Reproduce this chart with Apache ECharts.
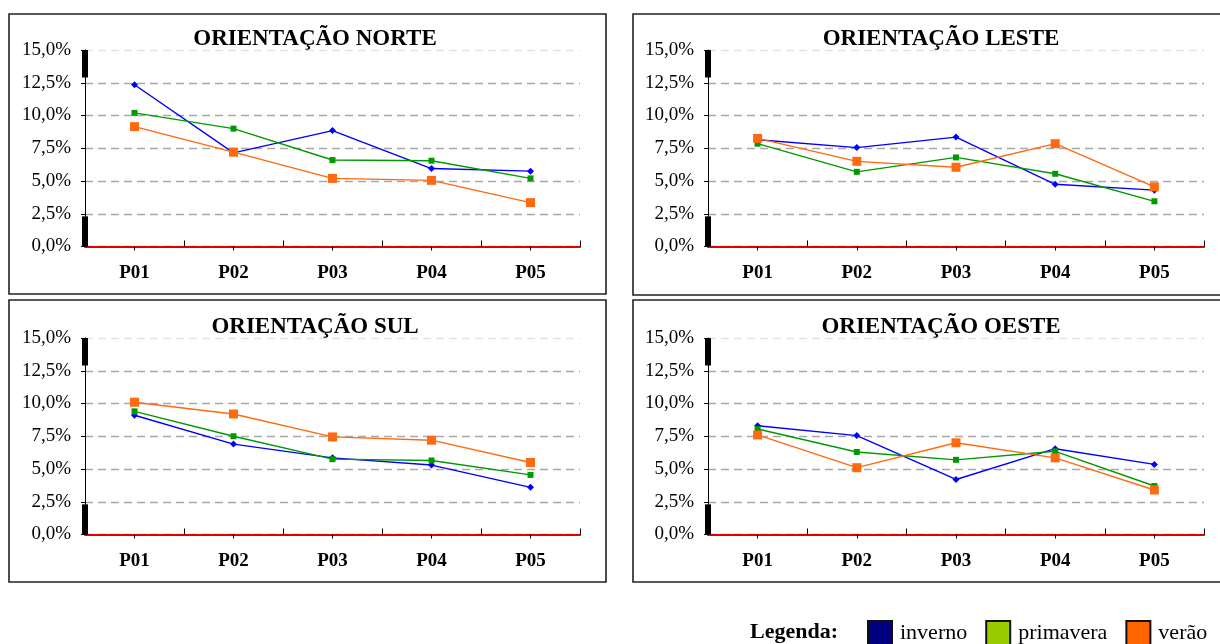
<!DOCTYPE html>
<html>
<head>
<meta charset="utf-8">
<script src="https://cdn.jsdelivr.net/npm/echarts@6/dist/echarts.min.js"></script>
<style>
html,body{margin:0;padding:0;background:#fff;}
#chart{width:1220px;height:644px;}
</style>
</head>
<body>
<div id="chart"></div>
<script>
const categories = ['P01', 'P02', 'P03', 'P04', 'P05'];
const seriesNames = ['inverno', 'primavera', 'verão'];
const titles = ['ORIENTAÇÃO NORTE', 'ORIENTAÇÃO LESTE', 'ORIENTAÇÃO SUL', 'ORIENTAÇÃO OESTE'];

const norteInverno   = [12.35, 7.15, 8.85, 5.95, 5.75];
const nortePrimavera = [10.2, 9.0, 6.6, 6.55, 5.2];
const norteVerao     = [9.15, 7.2, 5.2, 5.05, 3.35];

const lesteInverno   = [8.15, 7.55, 8.35, 4.75, 4.3];
const lestePrimavera = [7.85, 5.7, 6.8, 5.55, 3.45];
const lesteVerao     = [8.25, 6.5, 6.05, 7.85, 4.55];

const sulInverno     = [9.1, 6.9, 5.85, 5.3, 3.6];
const sulPrimavera   = [9.4, 7.5, 5.75, 5.65, 4.55];
const sulVerao       = [10.1, 9.2, 7.45, 7.2, 5.5];

const oesteInverno   = [8.3, 7.55, 4.2, 6.55, 5.35];
const oestePrimavera = [8.05, 6.3, 5.7, 6.35, 3.7];
const oesteVerao     = [7.6, 5.1, 7.0, 5.85, 3.4];

const yMin = 0, yMax = 15, yStep = 2.5;
// thick black marks drawn on the value axis (value ranges)
const axisMarks = [[0, 2.3], [12.9, 15]];

const panels = [
  [norteInverno, nortePrimavera, norteVerao],
  [lesteInverno, lestePrimavera, lesteVerao],
  [sulInverno, sulPrimavera, sulVerao],
  [oesteInverno, oestePrimavera, oesteVerao]
];

const FONT = "'Liberation Serif','Times New Roman',serif";
const lineColors = ['#0000FF', '#009900', '#FF6A10'];
const symbols = ['diamond', 'rect', 'rect'];
const symbolSizes = [7, 6, 9];
const legendColors = ['#000080', '#99CC00', '#FF6600'];

const grids = [
  {left: 85, top: 50, width: 495, height: 196.5},
  {left: 708, top: 50, width: 496, height: 196.5},
  {left: 85, top: 338, width: 495, height: 196.5},
  {left: 708, top: 338, width: 496, height: 196.5}
];
const frames = [
  {x: 9, y: 14, w: 597, h: 280},
  {x: 633, y: 14, w: 620, h: 281},
  {x: 9, y: 300, w: 597, h: 282},
  {x: 633, y: 300, w: 620, h: 282}
];
const titleCenters = [[315, 39], [941, 39], [315, 327], [941, 327]];

const xAxes = [], yAxes = [], series = [], graphics = [];
grids.forEach((g, i) => {
  xAxes.push({
    type: 'category', gridIndex: i, data: categories, position: 'bottom',
    boundaryGap: true,
    axisLine: {show: true, lineStyle: {color: '#E00000', width: 2}},
    axisTick: {show: true, inside: true, length: 6, alignWithLabel: false, lineStyle: {color: '#000', width: 1}},
    axisLabel: {show: true, margin: 17, color: '#000', fontFamily: FONT, fontWeight: 'bold', fontSize: 19},
    splitLine: {show: false}
  });
  xAxes.push({
    type: 'category', gridIndex: i, data: categories, position: 'bottom',
    boundaryGap: true,
    axisLine: {show: false},
    axisTick: {show: true, inside: false, length: 4, alignWithLabel: true, lineStyle: {color: '#000', width: 1}},
    axisLabel: {show: false},
    splitLine: {show: false}
  });
  yAxes.push({
    type: 'value', gridIndex: i, min: yMin, max: yMax, interval: yStep,
    axisLine: {show: true, lineStyle: {color: '#000', width: 1}},
    axisTick: {show: true, length: 4, lineStyle: {color: '#000'}},
    axisLabel: {
      color: '#000', fontFamily: FONT, fontSize: 19, margin: 14,
      formatter: v => v.toFixed(1).replace('.', ',') + '%'
    },
    splitLine: {
      show: true,
      lineStyle: {
        type: [8, 5], width: 1.3,
        color: ['#A8A8A8', '#A8A8A8', '#A8A8A8', '#A8A8A8', '#A8A8A8', '#A8A8A8', '#E2E2E2']
      }
    }
  });
  panels[i].forEach((data, k) => {
    series.push({
      name: seriesNames[k], type: 'line', xAxisIndex: i * 2, yAxisIndex: i,
      data: data, symbol: symbols[k], symbolSize: symbolSizes[k],
      showAllSymbol: true, animation: false,
      lineStyle: {color: lineColors[k], width: 1.4},
      itemStyle: {color: lineColors[k], borderWidth: 0}
    });
  });
  series.push({
    type: 'custom', xAxisIndex: i * 2, yAxisIndex: i, silent: true, animation: false,
    data: axisMarks.map(m => [0, m[0], m[1]]),
    renderItem: (params, api) => {
      const p0 = api.coord([api.value(0), api.value(1)]);
      const p1 = api.coord([api.value(0), api.value(2)]);
      const half = api.size([1, 0])[0] / 2;
      const x = p0[0] - half;
      return {type: 'rect', shape: {x: x - 3, y: p1[1], width: 6, height: p0[1] - p1[1]}, style: {fill: '#000'}};
    }
  });
  const f = frames[i];
  graphics.push({type: 'rect', silent: true, z: -1, shape: {x: f.x, y: f.y, width: f.w, height: f.h},
    style: {fill: 'none', stroke: '#222', lineWidth: 1.6}});
  graphics.push({type: 'text', silent: true, x: titleCenters[i][0], y: titleCenters[i][1],
    style: {text: titles[i], align: 'center', verticalAlign: 'middle', font: 'bold 23px ' + FONT, fill: '#000'}});
});
graphics.push({type: 'text', silent: true, x: 750, y: 632,
  style: {text: 'Legenda:', align: 'left', verticalAlign: 'middle', font: 'bold 22px ' + FONT, fill: '#000'}});

const chart = echarts.init(document.getElementById('chart'), null, {renderer: 'canvas'});
chart.setOption({
  animation: false,
  backgroundColor: '#fff',
  grid: grids,
  xAxis: xAxes,
  yAxis: yAxes,
  legend: {
    left: 867, top: 620, orient: 'horizontal', padding: 0,
    itemWidth: 24, itemHeight: 24, itemGap: 18,
    selectedMode: false,
    textStyle: {fontFamily: FONT, fontSize: 22, color: '#000', padding: [0, 0, 0, 3]},
    data: seriesNames.map((n, k) => ({
      name: n, icon: 'rect',
      itemStyle: {color: legendColors[k], borderColor: '#111', borderWidth: 2}
    }))
  },
  graphic: graphics,
  series: series
});
</script>
</body>
</html>
